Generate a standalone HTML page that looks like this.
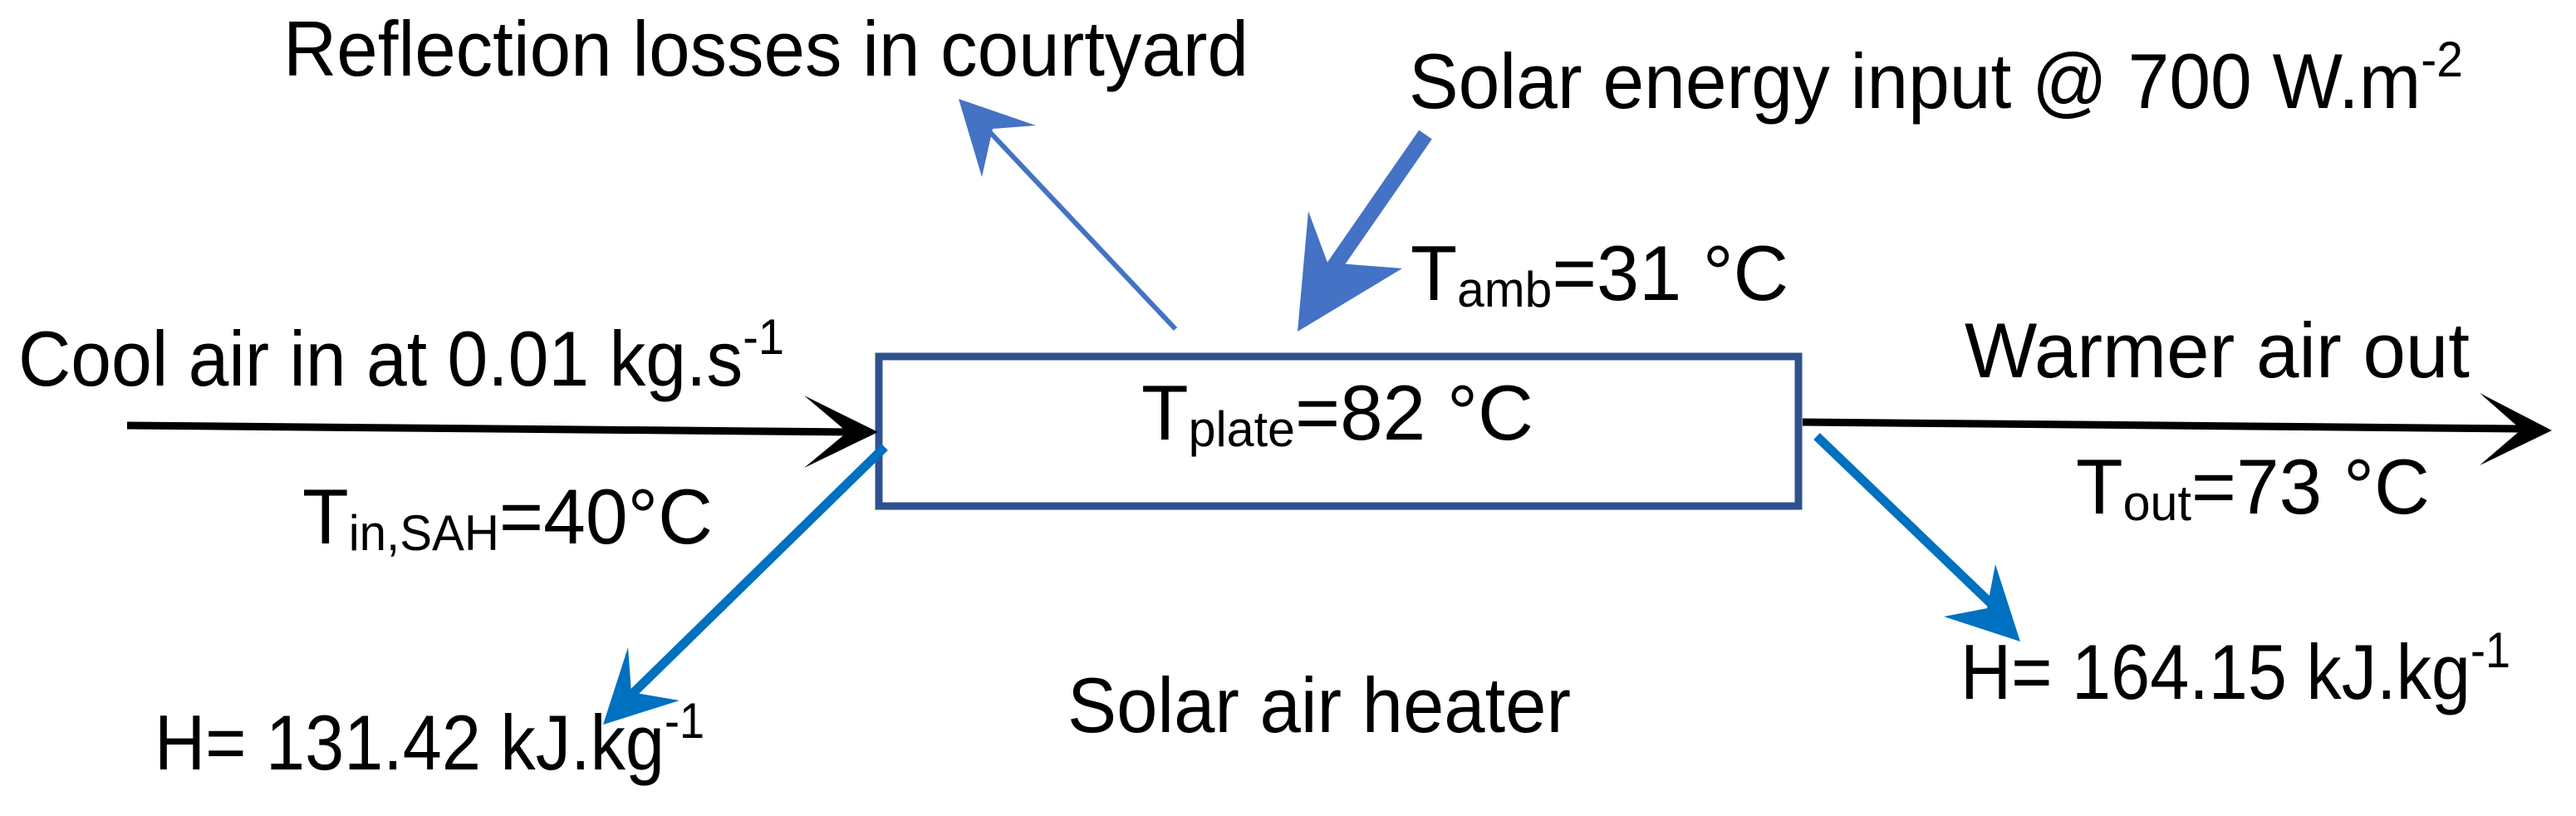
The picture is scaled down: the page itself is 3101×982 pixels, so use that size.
<!DOCTYPE html>
<html><head><meta charset="utf-8"><style>html,body{margin:0;padding:0;background:#fff;overflow:hidden}svg{display:block}text{font-family:"Liberation Sans",sans-serif;fill:#000}</style></head>
<body>
<svg width="3101" height="982" viewBox="0 0 3101 982" xmlns="http://www.w3.org/2000/svg">
<rect width="3101" height="982" fill="#fff"/>
<rect x="1058" y="429" width="1107" height="180" fill="none" stroke="#2F528F" stroke-width="9"/>
<line x1="153" y1="512" x2="1030" y2="520" stroke="#000" stroke-width="9"/>
<polygon points="1057,520 968,476 1020,520 968,563" fill="#000"/>
<line x1="2170" y1="508" x2="3035" y2="516" stroke="#000" stroke-width="9"/>
<polygon points="3072,518 2985,473 3035,517 2985,560" fill="#000"/>
<line x1="1415" y1="396" x2="1186" y2="153" stroke="#4472C4" stroke-width="6"/>
<polygon points="1154,119 1247,151 1195,155 1182,213" fill="#4472C4"/>
<line x1="1716" y1="162" x2="1596" y2="335" stroke="#4472C4" stroke-width="19"/>
<polygon points="1562,399 1575,254 1598,316 1688,323" fill="#4472C4"/>
<line x1="1065" y1="538" x2="752" y2="844" stroke="#0070C0" stroke-width="11"/>
<polygon points="726,872 756,779 760,833 818,843" fill="#0070C0"/>
<line x1="2187" y1="525" x2="2410" y2="739" stroke="#0070C0" stroke-width="11"/>
<polygon points="2432,772 2402,679 2392,732 2340,742" fill="#0070C0"/>
<g font-size="94">
<text x="341" y="91" textLength="1162" lengthAdjust="spacingAndGlyphs">Reflection losses in courtyard</text>
<text x="1696" y="130" textLength="1269" lengthAdjust="spacingAndGlyphs">Solar energy input @ 700 W.m<tspan font-size="60" dy="-38">-2</tspan></text>
<text x="1698" y="361" textLength="455" lengthAdjust="spacingAndGlyphs">T<tspan font-size="60" dy="8">amb</tspan><tspan dy="-8">=31 °C</tspan></text>
<text x="22" y="464" textLength="922" lengthAdjust="spacingAndGlyphs">Cool air in at 0.01 kg.s<tspan font-size="60" dy="-38">-1</tspan></text>
<text x="1374" y="529" textLength="472" lengthAdjust="spacingAndGlyphs">T<tspan font-size="60" dy="8">plate</tspan><tspan dy="-8">=82 °C</tspan></text>
<text x="2365" y="454" textLength="608" lengthAdjust="spacingAndGlyphs">Warmer air out</text>
<text x="364" y="654" textLength="494" lengthAdjust="spacingAndGlyphs">T<tspan font-size="60" dy="8">in,SAH</tspan><tspan dy="-8">=40°C</tspan></text>
<text x="2499" y="618" textLength="426" lengthAdjust="spacingAndGlyphs">T<tspan font-size="60" dy="8">out</tspan><tspan dy="-8">=73 °C</tspan></text>
<text x="186" y="926" textLength="662" lengthAdjust="spacingAndGlyphs">H= 131.42 kJ.kg<tspan font-size="60" dy="-38">-1</tspan></text>
<text x="2360" y="841" textLength="662" lengthAdjust="spacingAndGlyphs">H= 164.15 kJ.kg<tspan font-size="60" dy="-38">-1</tspan></text>
<text x="1285" y="881" textLength="606" lengthAdjust="spacingAndGlyphs">Solar air heater</text>
</g>
</svg>
</body></html>
